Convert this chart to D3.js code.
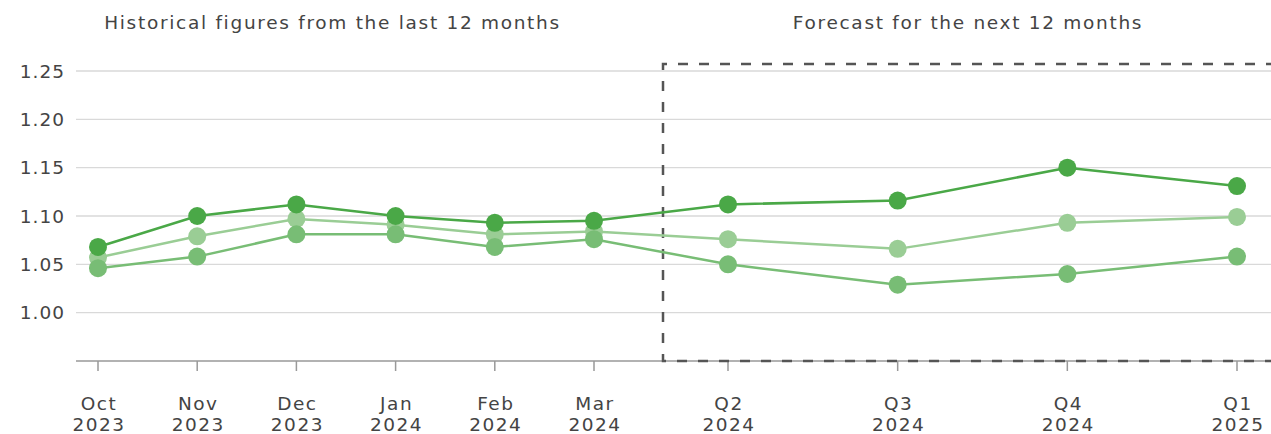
<!DOCTYPE html>
<html>
<head>
<meta charset="utf-8">
<script src="https://cdn.jsdelivr.net/npm/d3@7"></script>
<style>
  body { margin: 0; background: #fff; }
  svg text { font-family: 'DejaVu Sans', sans-serif; fill: #444; }
</style>
</head>
<body>
<div id="chart"></div>
<script>
// historical months and forecast quarters
const histLabels = [['Oct', '2023'], ['Nov', '2023'], ['Dec', '2023'], ['Jan', '2024'], ['Feb', '2024'], ['Mar', '2024']];
const fcLabels = [['Q2', '2024'], ['Q3', '2024'], ['Q4', '2024'], ['Q1', '2025']];

// three series, first 6 historical then 4 forecast values
const seriesHigh = [1.068, 1.100, 1.112, 1.100, 1.093, 1.095, 1.112, 1.116, 1.150, 1.131];
const seriesMid = [1.057, 1.079, 1.097, 1.091, 1.081, 1.084, 1.076, 1.066, 1.093, 1.099];
const seriesLow = [1.046, 1.058, 1.081, 1.081, 1.068, 1.076, 1.050, 1.029, 1.040, 1.058];

const yTicks = [1.00, 1.05, 1.10, 1.15, 1.20, 1.25];

const width = 1271, height = 434;
const plotLeft = 76, splitX = 663, axisY = 361;
const fontSize = '18.5px';

const svg = d3.select('#chart').append('svg')
  .attr('width', width)
  .attr('height', height);

const y = d3.scaleLinear().domain([0.95, 1.25]).range([axisY, 71]);
// two x scales: monthly history, quarterly forecast
const xHist = d3.scaleLinear().domain([0, histLabels.length - 1]).range([98, 594]);
const xFc = d3.scaleLinear().domain([0, fcLabels.length - 1]).range([728, 1237]);
const xPos = i => i < histLabels.length ? xHist(i) : xFc(i - histLabels.length);

// gridlines
svg.append('g').selectAll('line')
  .data(yTicks)
  .enter().append('line')
    .attr('x1', plotLeft).attr('x2', width)
    .attr('y1', d => y(d)).attr('y2', d => y(d))
    .attr('stroke', '#d9d9d9')
    .attr('stroke-width', 1.3);

svg.append('g').selectAll('text')
  .data(yTicks)
  .enter().append('text')
    .attr('x', 65)
    .attr('y', d => y(d))
    .attr('dy', '0.36em')
    .attr('text-anchor', 'end')
    .attr('font-size', fontSize)
    .attr('letter-spacing', '1px')
    .text(d => d.toFixed(2));

// x axis line + ticks
svg.append('line')
  .attr('x1', plotLeft).attr('x2', width)
  .attr('y1', axisY).attr('y2', axisY)
  .attr('stroke', '#999').attr('stroke-width', 1.5);

const allLabels = histLabels.concat(fcLabels);
const xg = svg.append('g').selectAll('g')
  .data(allLabels)
  .enter().append('g')
    .attr('transform', (d, i) => 'translate(' + xPos(i) + ',0)');
xg.append('line')
  .attr('y1', axisY).attr('y2', axisY + 10)
  .attr('stroke', '#999').attr('stroke-width', 1.5);
xg.append('text')
  .attr('y', 410)
  .attr('x', 1)
  .attr('text-anchor', 'middle')
  .attr('font-size', fontSize)
  .attr('letter-spacing', '1.5px')
  .text(d => d[0]);
xg.append('text')
  .attr('y', 431)
  .attr('x', 1)
  .attr('text-anchor', 'middle')
  .attr('font-size', fontSize)
  .attr('letter-spacing', '1.5px')
  .text(d => d[1]);

// forecast dashed box
svg.append('path')
  .attr('d', 'M' + (width + 5) + ',64H' + splitX + 'V' + axisY + 'H' + (width + 5))
  .attr('fill', 'none')
  .attr('stroke', '#555')
  .attr('stroke-width', 2.5)
  .attr('stroke-dasharray', '10,11');

// section titles
svg.append('text')
  .attr('x', splitX / 2 + 1).attr('y', 29)
  .attr('text-anchor', 'middle')
  .attr('font-size', fontSize)
  .attr('letter-spacing', '1.7px')
  .text('Historical figures from the last 12 months');
svg.append('text')
  .attr('x', (splitX + width) / 2 + 1).attr('y', 29)
  .attr('text-anchor', 'middle')
  .attr('font-size', fontSize)
  .attr('letter-spacing', '1.7px')
  .text('Forecast for the next 12 months');

// lines, drawn light to dark
const series = [
  {values: seriesMid, color: '#9acd95'},
  {values: seriesLow, color: '#78bd75'},
  {values: seriesHigh, color: '#4aa847'}
];
const line = d3.line().x((d, i) => xPos(i)).y(d => y(d));

series.forEach(s => {
  const g = svg.append('g');
  g.append('path')
    .datum(s.values)
    .attr('d', line)
    .attr('fill', 'none')
    .attr('stroke', s.color)
    .attr('stroke-width', 2.5);
  g.selectAll('circle')
    .data(s.values)
    .enter().append('circle')
      .attr('cx', (d, i) => xPos(i))
      .attr('cy', d => y(d))
      .attr('r', 9)
      .attr('fill', s.color);
});
</script>
</body>
</html>
